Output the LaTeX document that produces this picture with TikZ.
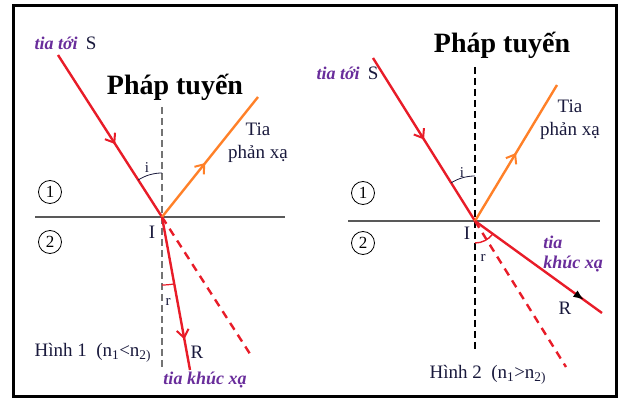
\documentclass[tikz,border=0pt]{standalone}
\usepackage{fontspec}
\setmainfont{Liberation Serif}
\usetikzlibrary{positioning,arrows.meta,decorations.markings}
\definecolor{raycol}{RGB}{232,28,40}
\definecolor{reflcol}{RGB}{255,128,40}
\definecolor{tagcol}{RGB}{105,45,155}
\definecolor{inkcol}{RGB}{25,25,60}

\begin{document}
\begin{tikzpicture}[x=1pt, y=1pt,
  ray/.style={raycol, line width=2.4pt},
  refl/.style={reflcol, line width=2.4pt},
  ext/.style={raycol, line width=2.4pt, dash pattern=on 8pt off 6pt},
  normal/.style={line width=1.1pt, dash pattern=on 7pt off 4pt},
  surf/.style={draw=black!65, line width=1.4pt},
  medium/.style={draw, circle, inner sep=0pt, minimum size=23pt, line width=0.8pt, font=\fontsize{17}{17}\selectfont},
  title/.style={font=\fontsize{28}{30}\selectfont\bfseries},
  tag/.style={text=tagcol, font=\fontsize{18}{20}\selectfont\bfseries\itshape},
  lab/.style={text=inkcol, font=\fontsize{19}{23}\selectfont},
  small/.style={text=inkcol, font=\fontsize{15}{15}\selectfont},
  midarrow/.style={postaction={decorate, decoration={markings,
    mark=at position #1 with {\arrow{Straight Barb[length=8pt, width=12pt, line width=2pt]}}}}},
  endarrow/.style={postaction={decorate, decoration={markings,
    mark=at position #1 with {\arrow[black]{Latex[length=11pt, width=8pt]}}}}}]
\useasboundingbox (0,0) rectangle (624,399);
\draw[line width=3pt] (13,2) rectangle (616,393);

% Hinh 1
\coordinate (I1) at (162,182);
\coordinate (S1) at (58,344);
\coordinate (P1) at (258,302);
\coordinate (R1) at (190,29);
\coordinate (E1) at (252,42);
\coordinate (N1t) at (162,292);
\coordinate (N1b) at (162,32);
\coordinate (L1a) at (35,182);
\coordinate (L1b) at (285,182);
\draw[surf] (L1a) -- (L1b);
\draw[normal, black!55] (N1t) -- (N1b);
\draw[ext] (I1) -- (E1);
\draw[ray, midarrow=0.55] (S1) -- (I1);
\draw[refl, midarrow=0.45] (I1) -- (P1);
\draw[ray, midarrow=0.8] (I1) -- (R1);
\draw[inkcol, line width=0.8pt] ([shift={(90:44)}]I1) arc[start angle=90, end angle=122.7, radius=44];
\draw[raycol, line width=1.2pt] ([shift={(-90:68)}]I1) arc[start angle=-90, end angle=-79.6, radius=68];
\node[title] (pt1) at (175,312) {Pháp tuyến};
\node[tag, anchor=west] (tt1) at (31,356) {tia tới};
\node[lab, right=1pt of tt1] (s1) {S};
\node[lab, align=center] (tp1) at (258,256) {Tia\\phản xạ};
\node[medium] (m11) at (50,207) {1};
\node[medium] (m12) at (50,157) {2};
\node[small] (i1) at (147,231) {i};
\node[lab] (ii1) at (152,167) {I};
\node[small] (r1) at (168,97) {r};
\node[lab] (rr1) at (197,47) {R};
\node[tag] (kx1) at (205,19) {tia khúc xạ};
\node[lab, anchor=west] (h1) at (31,46) {Hình 1\enspace(n\textsubscript{1}<n\textsubscript{2)}};

% Hinh 2
\coordinate (I2) at (475,178);
\coordinate (S2) at (373,341);
\coordinate (P2) at (557,314);
\coordinate (R2) at (602,86);
\coordinate (E2) at (566,32);
\coordinate (N2t) at (475,332);
\coordinate (N2b) at (475,47);
\coordinate (L2a) at (348,178);
\coordinate (L2b) at (600,178);
\draw[surf] (L2a) -- (L2b);
\draw[normal, black] (N2t) -- (N2b);
\draw[ext] (I2) -- (E2);
\draw[ray, midarrow=0.5] (S2) -- (I2);
\draw[refl, midarrow=0.5] (I2) -- (P2);
\draw[ray, endarrow=0.86] (I2) -- (R2);
\draw[inkcol, line width=0.8pt] ([shift={(90:45)}]I2) arc[start angle=90, end angle=121.9, radius=45];
\draw[raycol, line width=1.4pt] ([shift={(-90:22)}]I2) arc[start angle=-90, end angle=-35.6, radius=22];
\node[title] (pt2) at (502,354) {Pháp tuyến};
\node[tag, anchor=west] (tt2) at (313,326) {tia tới};
\node[lab, right=1pt of tt2] (s2) {S};
\node[lab, align=center] (tp2) at (570,279) {Tia\\phản xạ};
\node[medium] (m21) at (363,206) {1};
\node[medium] (m22) at (363,156) {2};
\node[small] (i2) at (462,226) {i};
\node[lab] (ii2) at (467,166) {I};
\node[small] (r2) at (483,141) {r};
\node[lab] (rr2) at (565,91) {R};
\node[tag, align=left] (kx2) at (573,145) {tia\\khúc xạ};
\node[lab, anchor=west] (h2) at (426,24) {Hình 2\enspace(n\textsubscript{1}>n\textsubscript{2)}};
\end{tikzpicture}
\end{document}
